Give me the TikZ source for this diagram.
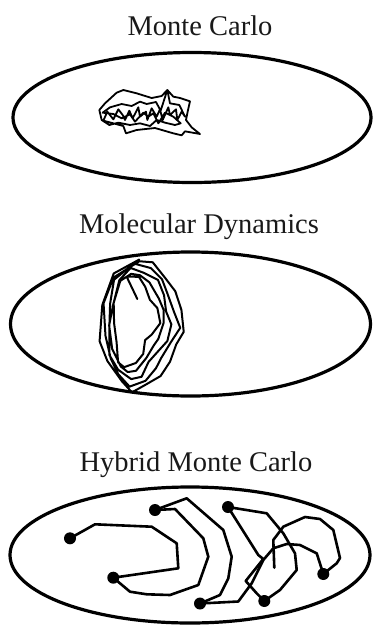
\documentclass[tikz,border=0pt]{standalone}
\usepackage{fontspec}
\setmainfont{Liberation Serif}
\usetikzlibrary{calc}
\begin{document}
\begin{tikzpicture}[x=1pt,y=-1pt, line join=round, line cap=round,
  region/.style={line width=3.2pt},
  title/.style={anchor=base, font=\fontsize{28.5}{30}\selectfont, inner sep=0pt, text=black!90},
  walk/.style={line width=1.8pt},
  traj/.style={line width=2pt},
  hmc/.style={line width=2.6pt},
  dot/.style={circle, fill=black, inner sep=0pt, minimum size=12pt}]
\useasboundingbox (0,0) rectangle (373,625);

% titles
\node[title] (t1) at (200,35) {Monte Carlo};
\node[title] (t2) at (199,233) {Molecular Dynamics};
\node[title] (t3) at (196,471) {Hybrid Monte Carlo};

% regions
\draw[region] (192,117.5) ellipse [x radius=179, y radius=65];
\draw[region] (190.5,324) ellipse [x radius=180, y radius=72];
\draw[region] (190,555) ellipse [x radius=180, y radius=68];

% Monte Carlo random walk
\begin{scope}[shift={(90pt,-70pt)}, x=0.3333pt, y=-0.3333pt]
\draw[walk] (35,150) -- (28,120) -- (45,100) -- (80,68) -- (100,60) -- (140,70) -- (185,84) -- (215,78) -- (232,60) -- (250,80) -- (270,84) -- (300,94) -- (293,125) -- (288,150) -- (305,172) -- (330,192) -- (285,184) -- (275,196) -- (250,190) -- (195,174) -- (140,180) -- (108,190) -- (100,168) -- (40,152) -- (52,125) -- (70,148) -- (85,118) -- (98,135) -- (105,150) -- (118,122) -- (128,145) -- (145,112) -- (150,140) -- (168,125) -- (172,150) -- (185,115) -- (200,140) -- (210,118) -- (218,150) -- (235,112) -- (240,135) -- (258,118) -- (262,150) -- (275,125) -- (285,140) -- (268,105) -- (240,100) -- (232,60) -- (212,122) -- (198,96) -- (170,102) -- (150,95) -- (125,108) -- (95,102) -- (60,112) -- (38,128) -- (70,132) -- (95,145) -- (120,133) -- (135,155) -- (160,128) -- (175,140) -- (190,130) -- (205,160) -- (225,128) -- (250,140) -- (272,160) -- (255,165) -- (225,158) -- (200,150) -- (180,168) -- (150,160) -- (120,165) -- (85,158) -- (58,165) -- (35,150);
\end{scope}

% Molecular dynamics spiral
\begin{scope}[shift={(0pt,-200pt)}, x=0.3333pt, y=-0.3333pt]
\coordinate (I1) at (380,230);  \coordinate (O1) at (420,174);
\coordinate (I2) at (410,235);  \coordinate (O2) at (470,180);
\coordinate (I3) at (435,262);  \coordinate (O3) at (515,220);
\coordinate (I4) at (452,295);  \coordinate (O4) at (538,275);
\coordinate (I5) at (465,330);  \coordinate (O5) at (552,330);
\coordinate (I6) at (470,365);  \coordinate (O6) at (568,395);
\coordinate (I7) at (452,398);  \coordinate (O7) at (545,445);
\coordinate (I8) at (432,420);  \coordinate (O8) at (515,490);
\coordinate (I9) at (418,448);  \coordinate (O9) at (485,535);
\coordinate (I10) at (400,480); \coordinate (O10) at (445,568);
\coordinate (I11) at (375,495); \coordinate (O11) at (400,578);
\coordinate (I12) at (355,470); \coordinate (O12) at (360,550);
\coordinate (I13) at (348,420); \coordinate (O13) at (320,490);
\coordinate (I14) at (350,360); \coordinate (O14) at (303,420);
\coordinate (I15) at (356,300); \coordinate (O15) at (305,320);
\coordinate (I16) at (365,255); \coordinate (O16) at (335,220);
\coordinate (tail) at (412,297);
\draw[traj] (tail) -- (I1)
  \foreach \n [evaluate=\n as \ja using {int(mod(\n,16)+1)},
               evaluate=\n as \ta using {\n/80},
               evaluate=\n as \dx using {6*sin(\n*97)},
               evaluate=\n as \dy using {6*cos(\n*131)}] in {1,...,80} {
    -- ($(I\ja)!\ta!(O\ja) + (\dx,\dy)$) };
\end{scope}

% Hybrid Monte Carlo
\node[dot] (d1) at (70,538.3) {};
\node[dot] (d2) at (113.3,577.7) {};
\node[dot] (d3) at (155,510) {};
\node[dot] (d4) at (228,507) {};
\node[dot] (d5) at (200,603.5) {};
\node[dot] (d6) at (264.3,601) {};
\node[dot] (d7) at (323.3,574) {};
\coordinate (gend) at (274.3,567.7);

\draw[hmc] (d1.center) -- (95,524.3) -- (151.7,526.7) -- (176.7,543.3) -- (178.3,568.3) -- (d2.center);
\draw[hmc] (d2.center) -- (130,591.7) -- (146.7,594.3) -- (170,595) -- (198.3,585) -- (208.3,556.7) -- (203.3,538.3) -- (175,509) -- (d3.center);
\draw[hmc] (d3.center) -- (186.7,498.3) -- (223.3,530) -- (231.7,556.7) -- (228.3,578.3) -- (220,595) -- (d5.center);
\draw[hmc] (d5.center) -- (238.3,601.5) -- (251.7,583.3) -- (263.3,560) -- (273.3,548.3) -- (286.7,544) -- (300,545) -- (316.7,553.3) -- (321,566.7) -- (d7.center);
\draw[hmc] (d4.center) -- (266.7,513.3) -- (283.3,533.3) -- (295,553.3) -- (296.7,570) -- (280,590) -- (d6.center);
\draw[hmc] (d4.center) -- (258.3,555) -- (263.3,559) -- (248.3,577.7) -- (245.7,581) -- (256.7,593.3) -- (d6.center);
\draw[hmc] (d7.center) -- (336.7,563.3) -- (340,558) -- (333.3,530) -- (320,519) -- (305,517) -- (283.3,526.7) -- (273.3,540) -- (gend);
\end{tikzpicture}
\end{document}
